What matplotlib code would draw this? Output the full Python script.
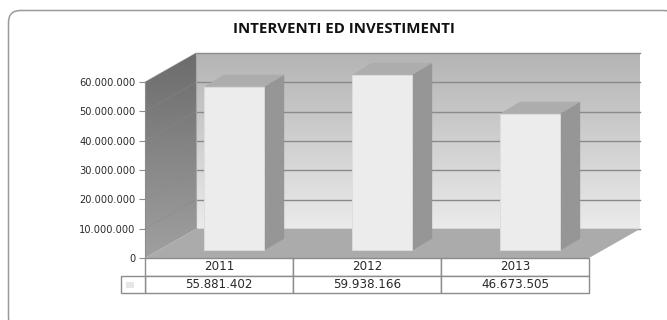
#!/usr/bin/env python3
# Colonne 3D finte (stile Excel) disegnate su assi normali
import numpy as np
import matplotlib
matplotlib.use('Agg')
import matplotlib.pyplot as plt
from matplotlib.colors import LinearSegmentedColormap
from matplotlib.patches import Polygon, FancyBboxPatch, Rectangle

# Dati
anni = ['2011', '2012', '2013']
valori = [55881402, 59938166, 46673505]
etichette_valori = ['55.881.402', '59.938.166', '46.673.505']
tick_y = [0, 10000000, 20000000, 30000000, 40000000, 50000000, 60000000]
tick_lab = ['0', '10.000.000', '20.000.000', '30.000.000', '40.000.000', '50.000.000', '60.000.000']
titolo = 'INTERVENTI ED INVESTIMENTI'

W, H = 667, 320
fig = plt.figure(figsize=(W / 100, H / 100), dpi=100)
fig.patch.set_facecolor('white')

# Bordo arrotondato dell'area grafico (esce dall'immagine a destra e in basso)
bordo = fig.add_axes([0, 0, 1, 1])
bordo.set_xlim(0, W)
bordo.set_ylim(H, 0)
bordo.axis('off')
bordo.add_patch(FancyBboxPatch((8.5, 10.5), 667, 319, boxstyle='round,pad=0,rounding_size=12',
                               fc='white', ec='#9a9a9a', lw=1.1))

# Assi sul piano frontale
ax = fig.add_axes([145 / W, (H - 258) / H, 444 / W, 176 / H])
ax.set_xlim(0, 3)
ax.set_ylim(0, 60000000)
ax.patch.set_alpha(0)
for s in ax.spines.values():
    s.set_visible(False)
ax.set_xticks([])
ax.set_yticks(tick_y)
ax.set_yticklabels(tick_lab, fontsize=7.1, color='#2a2a2a', family='DejaVu Sans')
ax.tick_params(axis='y', length=4, width=0.8, color='#8c8c8c', pad=3)

# Spostamento della profondita' in unita' dati
dx = 51 / 148
dy = 29 / 176 * 60000000
ymax = tick_y[-1]

# Parete di fondo e parete sinistra con sfumatura
grad = np.linspace(0, 1, 256).reshape(-1, 1)
ax.imshow(grad, extent=(dx, 3 + dx, dy, ymax + dy), aspect='auto', origin='upper', vmin=0, vmax=1,
          cmap=LinearSegmentedColormap.from_list('f', ['#b4b4b4', '#ebebeb']),
          zorder=1, clip_on=False)

sx = Polygon([(0, 0), (dx, dy), (dx, ymax + dy), (0, ymax)], transform=ax.transData, fc='none', ec='none')
ax.add_patch(sx)
sx.set_clip_on(False)
im2 = ax.imshow(grad, extent=(0, dx, 0, ymax + dy), aspect='auto', origin='upper', vmin=0, vmax=1,
                cmap=LinearSegmentedColormap.from_list('l', ['#6c6c6c', '#a0a0a0']),
                zorder=1)
im2.set_clip_box(fig.bbox)
im2.set_clip_path(sx)
ax.set_xlim(0, 3)
ax.set_ylim(0, ymax)

# Griglia su fondo e parete sinistra
for t in tick_y[1:]:
    ax.plot([dx, 3 + dx], [t + dy, t + dy], color='#8a8a8a', lw=1.0, zorder=2, clip_on=False)
    ax.plot([0, dx], [t, t + dy], color='#8a8a8a', lw=0.5, alpha=0.6, zorder=2, clip_on=False)
ax.plot([dx, 3 + dx], [dy, dy], color='#8a8a8a', lw=1.0, zorder=3, clip_on=False)
ax.plot([dx, dx], [dy, ymax + dy], color='#a8a8a8', lw=0.8, zorder=2, clip_on=False)

# Pavimento
ax.add_patch(Polygon([(0, 0), (3, 0), (3 + dx, dy), (dx, dy)], fc='#ababab', ec='none', zorder=3, clip_on=False))
ax.plot([0, 0], [0, ymax], color='#8c8c8c', lw=0.8, zorder=4, clip_on=False)

# Colonne
larg = 60 / 148
for i, v in enumerate(valori):
    x0 = i + 0.5 - larg / 2 + 0.30 * dx
    x1 = x0 + larg
    y0 = 0.26 * dy
    sx_off = 0.39 * dx
    sy_off = 0.41 * dy
    ax.add_patch(Polygon([(x1, y0), (x1 + sx_off, y0 + sy_off), (x1 + sx_off, y0 + v + sy_off), (x1, y0 + v)],
                         fc='#969696', ec='none', zorder=5, clip_on=False))
    ax.add_patch(Polygon([(x0, y0 + v), (x1, y0 + v), (x1 + sx_off, y0 + v + sy_off), (x0 + sx_off, y0 + v + sy_off)],
                         fc='#adadad', ec='none', zorder=5, clip_on=False))
    ax.add_patch(Rectangle((x0, y0), larg, v, fc='#ececec', ec='#dcdcdc', lw=0.6, zorder=6, clip_on=False))

# Tabella dati sotto il grafico
riga = 17.5 / 176 * ymax
lc = '#8c8c8c'
for i in range(3):
    ax.add_patch(Rectangle((i, -riga), 1, riga, fc='white', ec=lc, lw=1.0, zorder=7, clip_on=False))
    ax.add_patch(Rectangle((i, -2 * riga), 1, riga, fc='white', ec=lc, lw=1.0, zorder=7, clip_on=False))
    ax.text(i + 0.5, -riga / 2, anni[i], ha='center', va='center', fontsize=8.6, color='#2a2a2a', zorder=8)
    ax.text(i + 0.5, -1.5 * riga, etichette_valori[i], ha='center', va='center', fontsize=8.6, color='#2a2a2a', zorder=8)
leg = 24 / 148
ax.add_patch(Rectangle((-leg, -2 * riga), leg, riga, fc='white', ec=lc, lw=1.0, zorder=7, clip_on=False))
ax.add_patch(Rectangle((-leg * 0.79, -1.71 * riga), leg * 0.33, riga * 0.34, fc='#e6e6e6', ec='none', zorder=8, clip_on=False))

# Titolo
fig.text(344 / W, 1 - 29 / H, titolo, ha='center', va='center', fontsize=10.8, fontweight='bold',
         family='Open Sans', color='#111111')

plt.savefig('out.png', dpi=100)
